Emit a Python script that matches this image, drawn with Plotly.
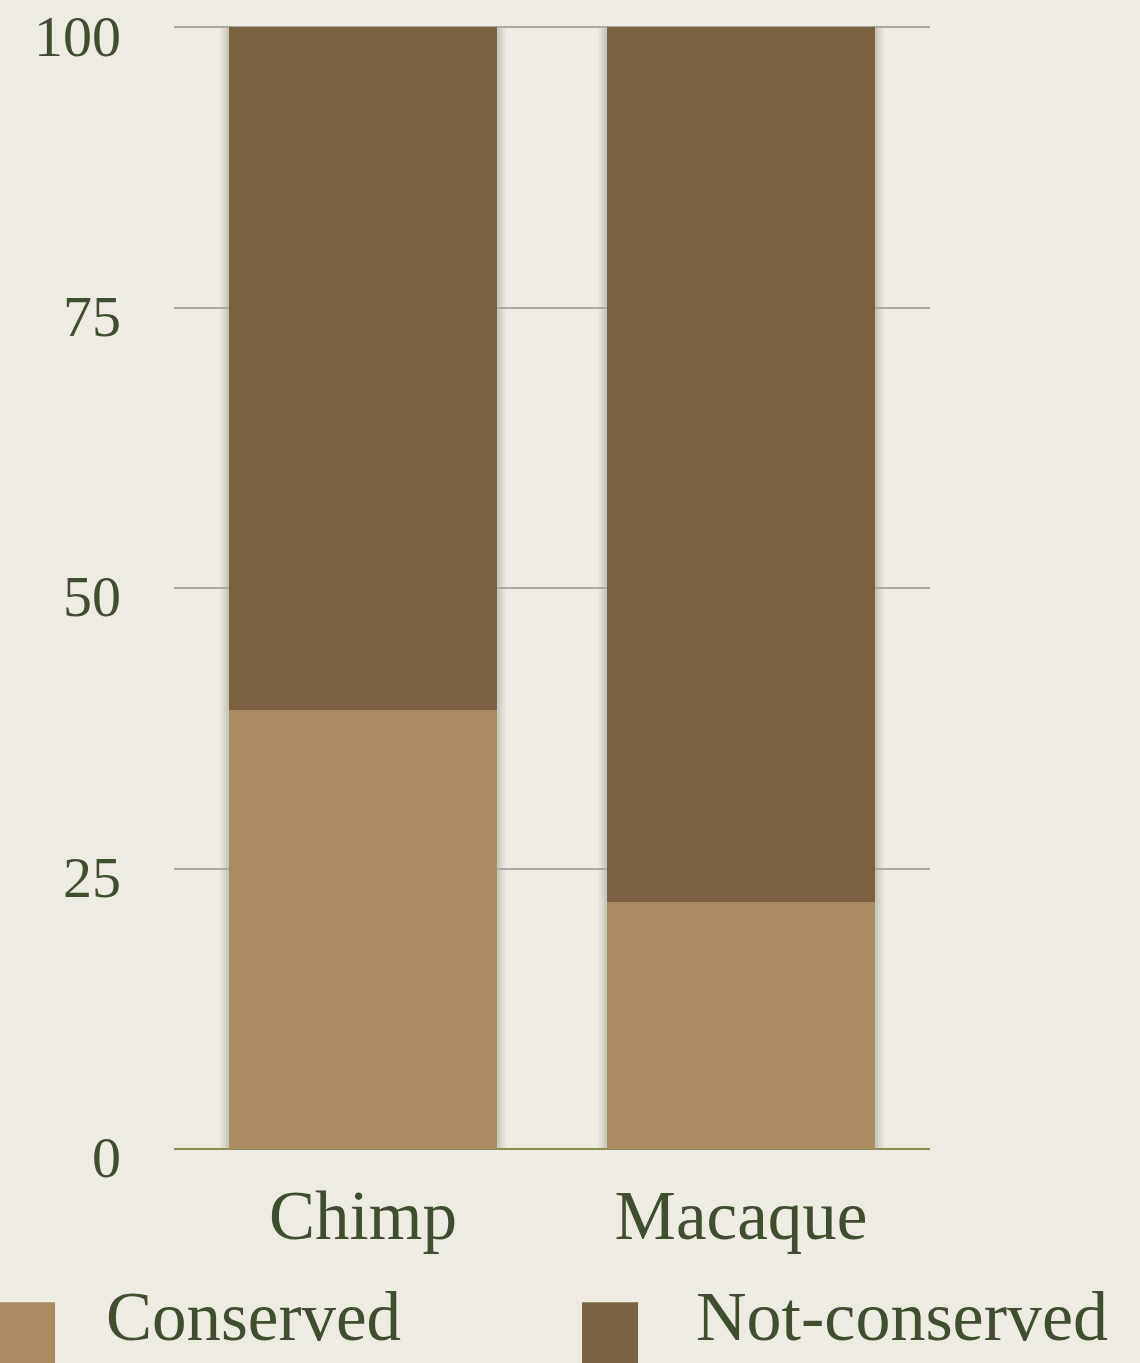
import plotly.graph_objects as go

# Share of elements conserved vs not conserved, per species (percent)
species = ["Chimp", "Macaque"]
conserved = [39.1, 22.0]
not_conserved = [60.9, 78.0]
series_names = ["Conserved", "Not-conserved"]
y_ticks = [0, 25, 50, 75, 100]

BG = "#EDEBE2"
TEXT = "#3E4F2D"
COL_CONS = "#A98C60"
COL_NOT = "#7A6241"
FONT = "Liberation Serif, Georgia, serif"
BAR_W = 0.71

fig = go.Figure()
fig.add_trace(go.Bar(x=species, y=conserved, name=series_names[0],
                     marker=dict(color=COL_CONS, line=dict(width=0)), width=BAR_W))
fig.add_trace(go.Bar(x=species, y=not_conserved, name=series_names[1],
                     marker=dict(color=COL_NOT, line=dict(width=0)), width=BAR_W))

# soft drop shadow behind each stacked bar
shapes = []
for i, _ in enumerate(species):
    total = conserved[i] + not_conserved[i]
    for d, a in [(0.022, 0.05), (0.014, 0.07), (0.007, 0.10)]:
        shapes.append(dict(type="rect", xref="x", yref="y", layer="below",
                           x0=i - BAR_W / 2 - d, x1=i + BAR_W / 2 + d,
                           y0=-0.3, y1=total + 0.05,
                           fillcolor=f"rgba(60,55,40,{a})", line=dict(width=0)))

# legend swatches and labels along the bottom
legend_items = [(series_names[0], COL_CONS, -0.2302, -0.1574, -0.0915, 69),
                (series_names[1], COL_NOT, 0.5397, 0.6138, 0.6885, 70)]
annotations = []
for name, col, sx0, sx1, tx, fs in legend_items:
    shapes.append(dict(type="rect", xref="paper", yref="paper", layer="above",
                       x0=sx0, x1=sx1, y0=-0.20, y1=-0.1364,
                       fillcolor=col, line=dict(width=0)))
    annotations.append(dict(xref="paper", yref="paper", x=tx, y=-0.1495,
                            xanchor="left", yanchor="middle", showarrow=False,
                            borderpad=0,
                            text=name, font=dict(family=FONT, size=fs, color=TEXT)))

fig.update_layout(
    barmode="stack",
    width=1140, height=1363,
    margin=dict(l=174, r=210, t=26, b=214),
    paper_bgcolor=BG, plot_bgcolor=BG,
    showlegend=False,
    shapes=shapes,
    annotations=annotations,
    font=dict(family=FONT, color=TEXT),
)
fig.update_xaxes(range=[-0.5, 1.5], showgrid=False, showline=False, zeroline=False,
                 automargin=False, ticks="",
                 tickfont=dict(family=FONT, size=69, color=TEXT),
                 ticklabelstandoff=20)
fig.update_yaxes(range=[0, 100.12], tickvals=y_ticks, showgrid=True, gridcolor="#A9A9A6",
                 gridwidth=2, zeroline=True, zerolinecolor="#8E8C55", zerolinewidth=2,
                 showline=False, ticks="", ticklabelstandoff=52, automargin=False,
                 ticklabeloverflow="allow", ticklabelshift=8,
                 tickfont=dict(family=FONT, size=58, color=TEXT))

fig.write_html("out.html")
